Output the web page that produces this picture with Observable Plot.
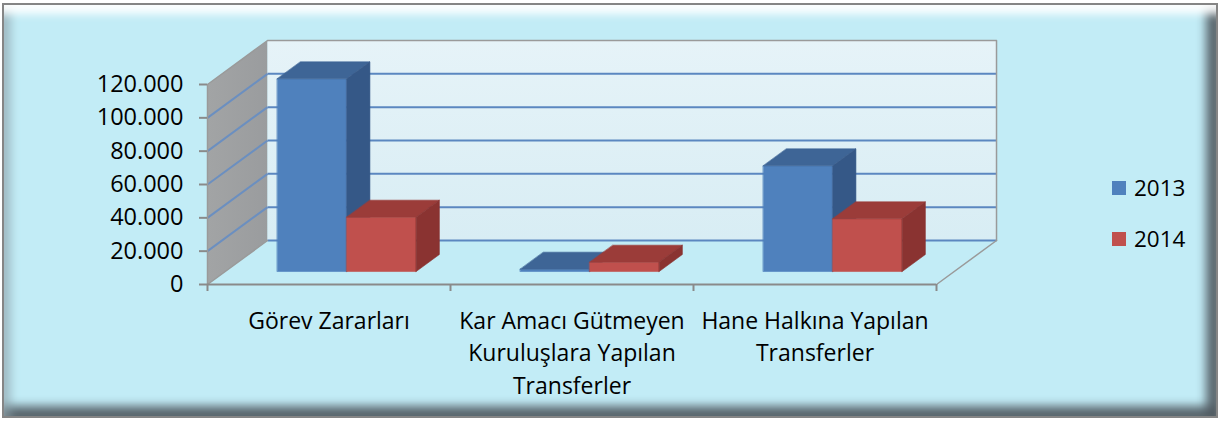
<!DOCTYPE html>
<html>
<head>
<meta charset="utf-8">
<script src="https://cdn.jsdelivr.net/npm/d3@7"></script>
<script src="https://cdn.jsdelivr.net/npm/@observablehq/plot@0.6"></script>
<style>
  html, body { margin: 0; padding: 0; background: #ffffff; }
  #wrap { position: relative; width: 1220px; height: 421px; overflow: hidden; }
  #frame {
    position: absolute; left: 2px; top: 3px; width: 1212px; height: 411px;
    border: 2px solid #858585; background: #c2ecf6;
    box-shadow:
      inset 0 15px 9px -6px rgba(255,255,255,0.95),
      inset 13px 0 9px -6px rgba(140,160,168,0.6),
      inset -16px 0 10px -6px rgba(80,90,96,0.9),
      inset 0 -16px 10px -6px rgba(80,90,96,0.9);
  }
  #chart { position: absolute; left: 0; top: 0; }
  .legend { position: absolute; left: 1112px; font-family: "Open Sans", sans-serif; font-size: 22.5px; color: #000; }
  .legend .item { position: absolute; left: 0; white-space: nowrap; display: flex; align-items: center; }
  .legend .sw { width: 14px; height: 14px; margin-right: 8px; }
</style>
</head>
<body>
<div id="wrap">
  <div id="frame"></div>
  <div id="chart"></div>
  <div class="legend" id="legend"></div>
</div>
<script>
// ---- data ----
const categories = ["Görev Zararları", "Kar Amacı Gütmeyen Kuruluşlara Yapılan Transferler", "Hane Halkına Yapılan Transferler"];
const categoryLabels = ["Görev Zararları", "Kar Amacı Gütmeyen\nKuruluşlara Yapılan\nTransferler", "Hane Halkına Yapılan\nTransferler"];
const series = ["2013", "2014"];
const values2013 = [115600, 1400, 63400];
const values2014 = [32600, 5600, 31600];
const yTicks = [0, 20000, 40000, 60000, 80000, 100000, 120000];

// ---- styling / layout ----
const seriesColors = [
  {front: "#4f81bd", top: "#3e6596", side: "#355887"},
  {front: "#c0504d", top: "#9b3c39", side: "#8a3331"}
];
const yMax = 120000;
const nCat = categories.length;
const DEPTH_X = 0.247;          // wall depth as share of one category width
const DEPTH_Y = 0.22 * yMax;    // wall depth in value units
const BAR_FRONT = 0.295, BAR_BACK = 0.682;
const barW = 1 / 3.5, gap = 0.75 * barW;

const P = (x, v, f) => ({x: x + f * DEPTH_X, y: v + f * DEPTH_Y});
const poly = (id, fill, pts) => pts.map(p => ({id, fill, ...p}));

const sideWall = poly("side", "", [P(0,0,0), P(0,0,1), P(0,yMax,1), P(0,yMax,0)]);
const backWall = poly("back", "", [P(0,0,1), P(nCat,0,1), P(nCat,yMax,1), P(0,yMax,1)]);

const backGrid = yTicks.filter(v => v < yMax).map(v => ({a: P(0,v,1), b: P(nCat,v,1)}));
const sideGrid = yTicks.filter(v => v > 0 && v < yMax).map(v => ({a: P(0,v,0), b: P(0,v,1)}));

const outlines = [
  ...poly("o1", "", [P(0,yMax,0), P(0,yMax,1), P(nCat,yMax,1), P(nCat,0,1)]),
  ...poly("o2", "", [P(0,0,0), P(0,yMax,0)]),
  ...poly("o3", "", [P(0,0,0), P(0,0,1)]),
  ...poly("o4", "", [P(nCat,0,0), P(nCat,0,1)])
];

const barRows = [];
categories.forEach((c, i) => {
  [values2013[i], values2014[i]].forEach((v, s) => {
    const x1 = i + gap + s * barW, x2 = x1 + barW, col = seriesColors[s], id = i + "-" + s;
    barRows.push(...poly(id + "f", col.front, [P(x1,0,BAR_FRONT), P(x2,0,BAR_FRONT), P(x2,v,BAR_FRONT), P(x1,v,BAR_FRONT)]));
    barRows.push(...poly(id + "t", col.top,   [P(x1,v,BAR_FRONT), P(x2,v,BAR_FRONT), P(x2,v,BAR_BACK), P(x1,v,BAR_BACK)]));
    barRows.push(...poly(id + "s", col.side,  [P(x2,0,BAR_FRONT), P(x2,0,BAR_BACK), P(x2,v,BAR_BACK), P(x2,v,BAR_FRONT)]));
  });
});

const fmt = d => d3.format(",")(d).replace(/,/g, ".");

const chart = Plot.plot({
  width: 1220, height: 421,
  marginLeft: 207, marginRight: 284, marginTop: 84, marginBottom: 137,
  x: {domain: [0, nCat], axis: null, label: null},
  y: {domain: [0, yMax], axis: null, label: null},
  color: {type: "identity"},
  style: {background: "transparent", fontFamily: "'Open Sans', sans-serif", fontSize: "23px", color: "#000", overflow: "visible"},
  marks: [
    Plot.line(sideWall, {x: "x", y: "y", curve: "linear-closed", fill: "url(#gSide)", stroke: "none"}),
    Plot.line(backWall, {x: "x", y: "y", curve: "linear-closed", fill: "url(#gBack)", stroke: "none"}),
    Plot.link(backGrid, {x1: d => d.a.x, y1: d => d.a.y, x2: d => d.b.x, y2: d => d.b.y, stroke: "#5b87c0", strokeWidth: 2}),
    Plot.link(sideGrid, {x1: d => d.a.x, y1: d => d.a.y, x2: d => d.b.x, y2: d => d.b.y, stroke: "#6b8fc0", strokeWidth: 2}),
    Plot.line(outlines, {x: "x", y: "y", z: "id", stroke: "#9a9a9a", strokeWidth: 1.5}),
    Plot.ruleY([0], {stroke: "#8a8a8a", strokeWidth: 2}),
    Plot.axisY(yTicks, {anchor: "left", label: null, tickSize: 8, tickPadding: 16, tickFormat: fmt, stroke: "#8a8a8a", strokeWidth: 2, fill: "#000", fontSize: 23.5}),
    Plot.axisX(d3.range(nCat + 1), {anchor: "bottom", label: null, tickSize: 7, tickFormat: () => "", stroke: "#8a8a8a", strokeWidth: 2}),
    Plot.line(barRows, {x: "x", y: "y", z: "id", curve: "linear-closed", fill: "fill", stroke: "fill", strokeWidth: 0.6}),
    Plot.text(categoryLabels, {x: (d, i) => i + 0.5, y: () => 0, text: d => d, dy: 21, lineAnchor: "top", lineHeight: 1.42, fontSize: 23, fill: "#000"})
  ]
});

const ns = "http://www.w3.org/2000/svg";
const defs = document.createElementNS(ns, "defs");
defs.innerHTML = `
  <linearGradient id="gBack" x1="0" y1="0" x2="0" y2="1">
    <stop offset="0" stop-color="#e6f3f8"/><stop offset="1" stop-color="#d8edf4"/>
  </linearGradient>
  <linearGradient id="gSide" x1="0" y1="0" x2="1" y2="0">
    <stop offset="0" stop-color="#a2a4a5"/><stop offset="1" stop-color="#9a9c9e"/>
  </linearGradient>`;
chart.prepend(defs);
document.getElementById("chart").appendChild(chart);

const legend = document.getElementById("legend");
const legendTops = [172, 223];
series.forEach((s, i) => {
  const item = document.createElement("div");
  item.className = "item";
  item.style.top = legendTops[i] + "px";
  item.innerHTML = `<span class="sw" style="background:${seriesColors[i].front}"></span><span>${s}</span>`;
  legend.appendChild(item);
});
</script>
</body>
</html>
